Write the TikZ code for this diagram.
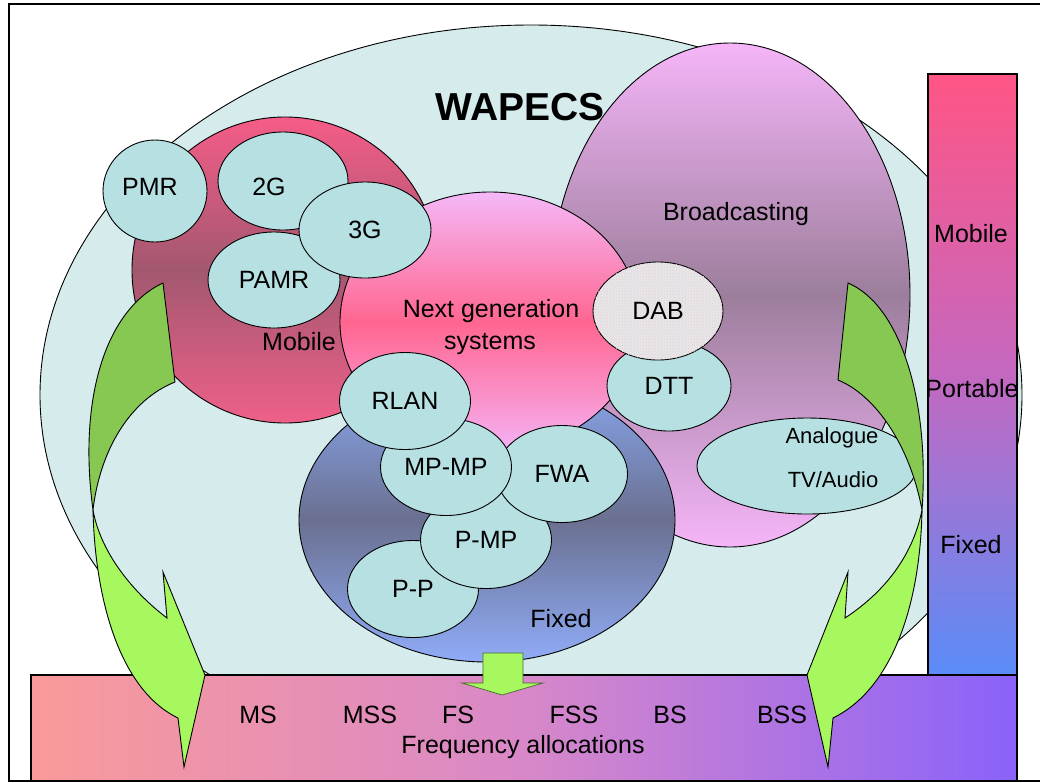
\documentclass[tikz,border=0pt]{standalone}
\usepackage{fontspec}
\setmainfont{Liberation Sans}
\usetikzlibrary{shapes.geometric,patterns}

\newcommand{\fs}{\fontsize{25}{30}\selectfont}
\newcommand{\fsm}{\fontsize{22}{26}\selectfont}

\definecolor{wapecs}{HTML}{D5EBEC}
\definecolor{svcfill}{HTML}{B7E0E2}
\definecolor{dabfill}{HTML}{E4E8E8}
\definecolor{dabdot}{HTML}{F2C4D4}
\definecolor{mobtop}{HTML}{F55C88}
\definecolor{mobmid}{HTML}{A35870}
\definecolor{mobbot}{HTML}{EE6089}
\definecolor{ngtop}{HTML}{F5B8F8}
\definecolor{ngmid}{HTML}{FF6690}
\definecolor{ngbot}{HTML}{F5B2F5}
\definecolor{bctop}{HTML}{F5B5F8}
\definecolor{bcmid}{HTML}{9C7E9C}
\definecolor{bcbot}{HTML}{F5B5F8}
\definecolor{fxtop}{HTML}{8AA8F0}
\definecolor{fxmid}{HTML}{6A7090}
\definecolor{fxbot}{HTML}{90ACF8}
\definecolor{scaletop}{HTML}{FF5585}
\definecolor{scalemid}{HTML}{C468C0}
\definecolor{scalebot}{HTML}{5A8CF8}
\definecolor{alloclft}{HTML}{FA9A9A}
\definecolor{allocmid}{HTML}{D888C8}
\definecolor{allocrgt}{HTML}{8A62FA}
\definecolor{leafdark}{HTML}{86C852}
\definecolor{leaf}{HTML}{A6F85E}
\definecolor{leafedge}{HTML}{4A6A30}

\tikzset{
  region/.style={ellipse, draw, inner sep=0pt},
  svc/.style={ellipse, draw, fill=svcfill, inner sep=0pt, font=\fs},
  txt/.style={anchor=base, inner sep=0pt, font=\fs},
  mobshade/.style={top color=mobtop, bottom color=mobbot, middle color=mobmid},
  ngshade/.style={top color=ngtop, bottom color=ngbot, middle color=ngmid},
  bcshade/.style={top color=bctop, bottom color=bcbot, middle color=bcmid},
  fxshade/.style={top color=fxtop, bottom color=fxbot, middle color=fxmid}
}

\begin{document}
\begin{tikzpicture}[x=1pt, y=-1pt, line width=0.9pt]
  \useasboundingbox (0,0) rectangle (1040,782);
  \draw[line width=1.6pt] (1040,4) -- (9,4) -- (9,781) -- (1040,781);

  % WAPECS and the mobile group
  \node[region, fill=wapecs, minimum width=982pt, minimum height=740pt] (wapecs) at (531,395) {};
  \node[draw, circle, inner sep=0pt, minimum size=306pt, mobshade] (mobile) at (285,270) {};
  \node[svc, minimum width=104pt, minimum height=102pt] (pmr) at (155,191) {};
  \node[svc, minimum width=130pt, minimum height=98pt] (g2) at (283,181) {};
  \node[svc, minimum width=132pt, minimum height=96pt] (pamr) at (274,280) {PAMR};

  % broadcasting, fixed, next generation
  \node[region, minimum width=360pt, minimum height=504pt, bcshade] (bcast) at (730,295) {};
  \node[region, minimum width=376pt, minimum height=284pt, fxshade] (fixed) at (487,520) {};
  \node[region, minimum width=300pt, minimum height=260pt, ngshade] (nextgen) at (490,322) {};
  \node[svc, minimum width=132pt, minimum height=96pt] (g3) at (365,230) {3G};

  \node[svc, minimum width=124pt, minimum height=90pt] (dtt) at (669,386) {DTT};
  \node[svc, fill=dabfill, postaction={pattern=crosshatch dots, pattern color=dabdot},
        minimum width=130pt, minimum height=98pt] (dab) at (658,311) {DAB};
  \node[svc, minimum width=220pt, minimum height=96pt] (analogue) at (807,466) {};

  \foreach \nm/\x/\y/\t in {pp/413/589/P-P, pmp/486/540/P-MP, fwa/562/474/FWA,
                            mpmp/446/467/MP-MP, rlan/405/401/RLAN}
    \node[svc, minimum width=131pt, minimum height=97pt] (\nm) at (\x,\y) {\t};

  % side and bottom scales
  \draw[line width=1.2pt, top color=scaletop, bottom color=scalebot, middle color=scalemid]
    (928,74) rectangle (1017,675);
  \draw[line width=1.2pt, left color=alloclft, right color=allocrgt, middle color=allocmid]
    (31,675) rectangle (1017,781);

  % curved arrows down to the allocations
  \draw[fill=leafdark] (163,283) .. controls (105,310) and (78,400) .. (93,510)
    .. controls (100,450) and (130,400) .. (175,382) -- cycle;
  \draw[fill=leaf] (93,510) .. controls (95,600) and (120,690) .. (178,718)
    -- (184,767) -- (205,675) -- (163,572) -- (167,618)
    .. controls (130,590) and (100,550) .. (93,510) -- cycle;
  \draw[fill=leafdark] (848,283) .. controls (900,305) and (930,400) .. (922,510)
    .. controls (910,445) and (875,395) .. (838,380) -- cycle;
  \draw[fill=leaf] (922,510) .. controls (920,610) and (890,690) .. (833,718)
    -- (828,767) -- (807,675) -- (848,572) -- (845,618)
    .. controls (880,595) and (912,560) .. (922,510) -- cycle;
  \draw[fill=leaf, draw=leafedge, line width=0.7pt] (483,653) -- (523,653) -- (523,683)
    -- (543,683) -- (502,695) -- (462,683) -- (483,683) -- cycle;

  % labels
  \node[txt, font=\bfseries\fontsize{39}{44}\selectfont] (title) at (520,120) {WAPECS};
  \node[txt] (pmrlbl) at (150,195) {PMR};
  \node[txt] (g2lbl) at (269,195) {2G};
  \node[txt] (moblbl) at (299,350) {Mobile};
  \node[txt] (nglbl) at (491,317) {Next generation};
  \node[txt] (nglbl2) at (490,349) {systems};
  \node[txt] (bclbl) at (736,220) {Broadcasting};
  \node[txt] (fxlbl) at (561,627) {Fixed};
  \node[txt, font=\fsm] (analbl) at (832,443) {Analogue};
  \node[txt, font=\fsm] (analbl2) at (833,487) {TV/Audio};

  \node[txt] (smob) at (971,242) {Mobile};
  \node[txt] (sport) at (972,397) {Portable};
  \node[txt] (sfix) at (971,553) {Fixed};

  \foreach \nm/\x/\t in {ms/258/MS, mss/370/MSS, fs/458/FS, fss/574/FSS, bs/670/BS, bss/782/BSS}
    \node[txt] (\nm) at (\x,723) {\t};
  \node[txt] (alloc) at (523,753) {Frequency allocations};
\end{tikzpicture}
\end{document}
